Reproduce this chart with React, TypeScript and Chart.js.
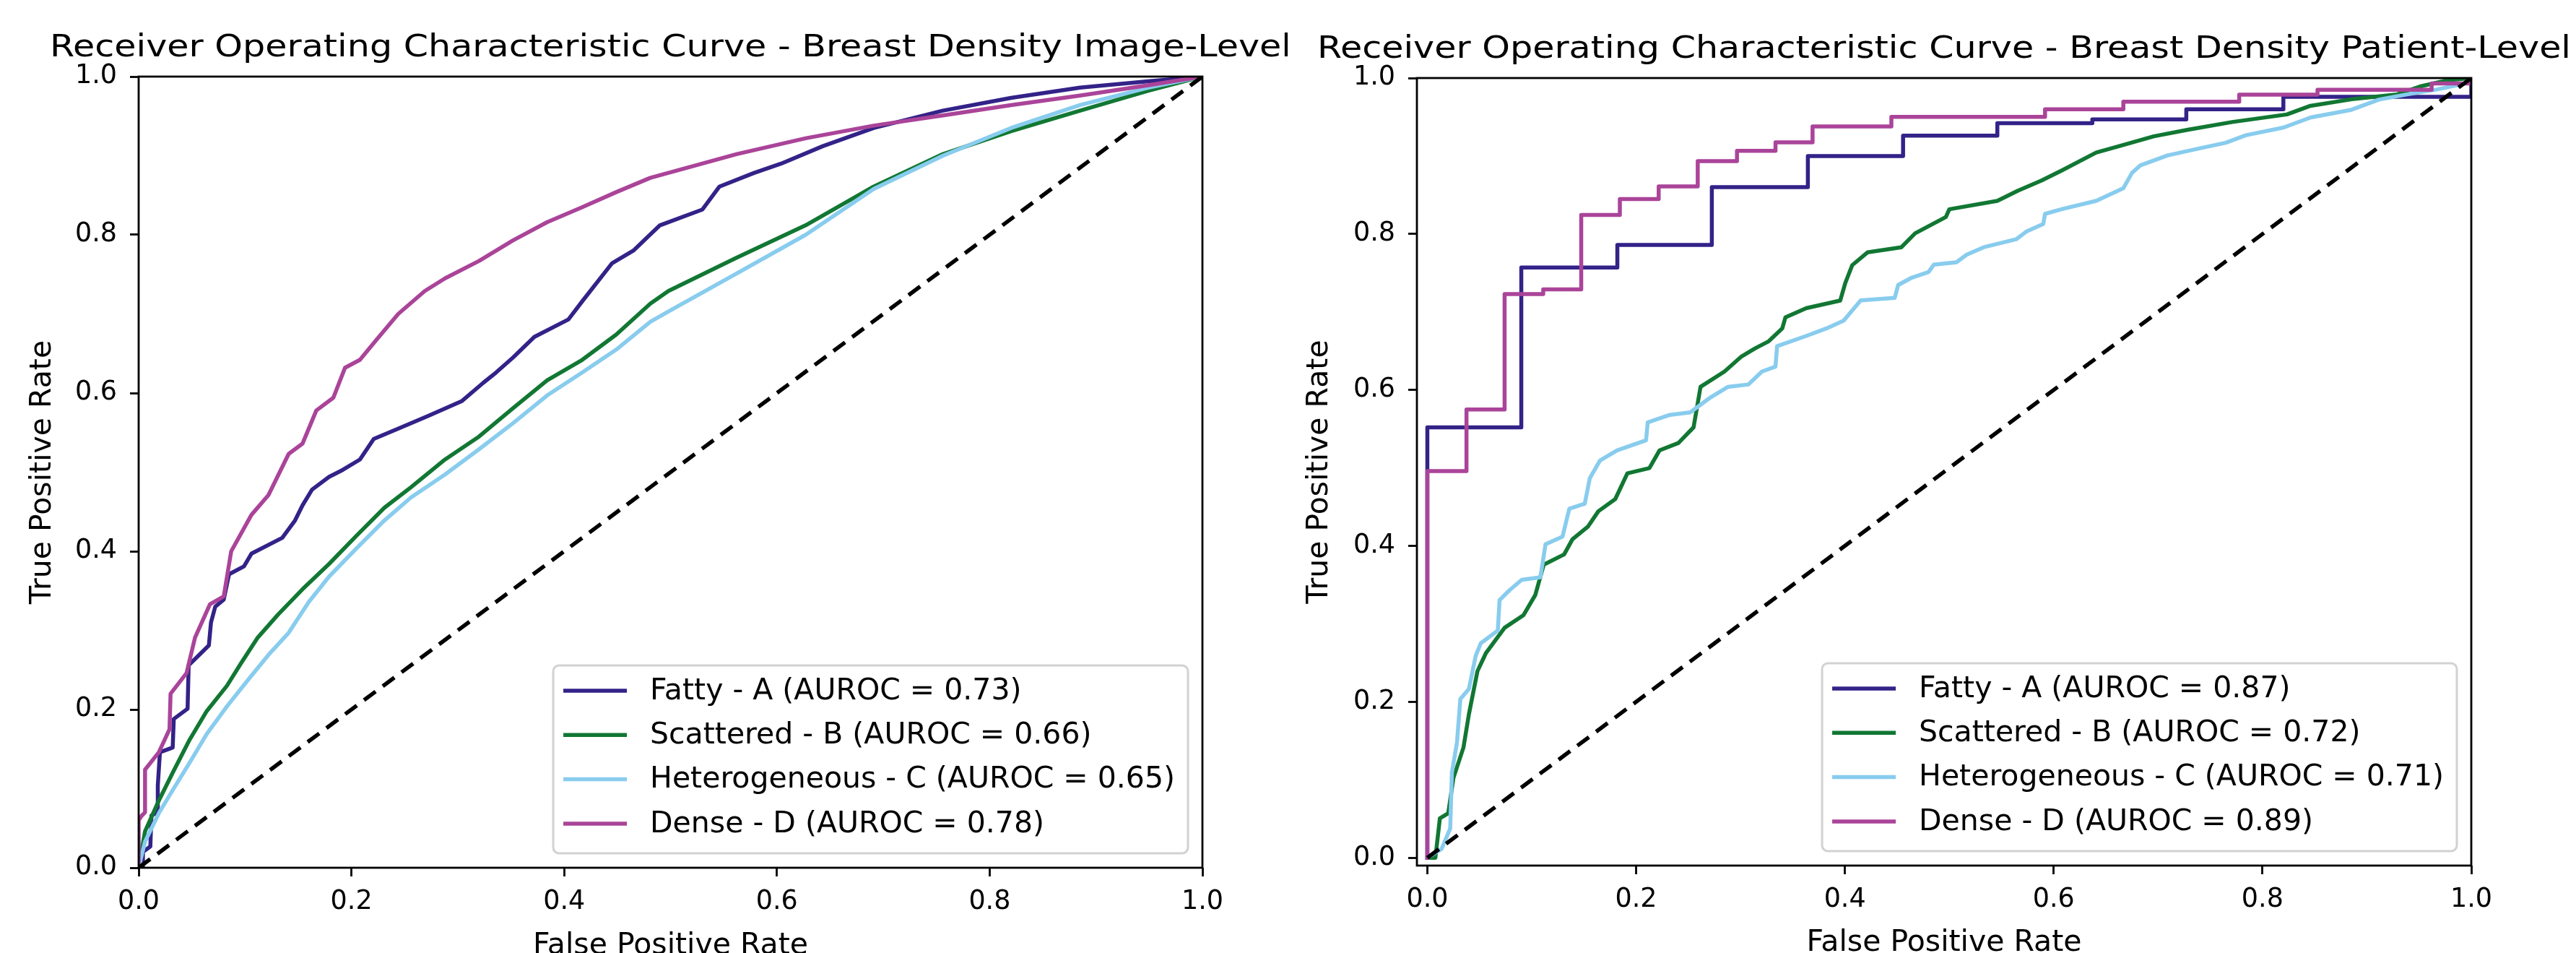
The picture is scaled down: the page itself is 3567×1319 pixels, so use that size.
import React, { useEffect, useRef } from "react";
import { Chart, registerables } from "chart.js";

Chart.register(...registerables);

// ---------------- data ----------------
const SERIES_LABELS = ["Fatty - A", "Scattered - B", "Heterogeneous - C", "Dense - D"];
const SERIES_COLORS = ["#332288", "#117733", "#88CCEE", "#AA4499"];
const IMAGE_AUROC = [0.73, 0.66, 0.65, 0.78];
const PATIENT_AUROC = [0.87, 0.72, 0.71, 0.89];
const TICK_VALUES = [0, 0.2, 0.4, 0.6, 0.8, 1.0];
const CHANCE_FPR = [0, 1];
const CHANCE_TPR = [0, 1];

// Image-level curves
const imgFattyFpr = [0, 0.004, 0.004, 0.011, 0.012, 0.018, 0.018, 0.02, 0.032, 0.033, 0.046, 0.047, 0.066, 0.068, 0.072, 0.08, 0.085, 0.099, 0.106, 0.135, 0.147, 0.154, 0.163, 0.179, 0.192, 0.208, 0.221, 0.244, 0.272, 0.304, 0.324, 0.336, 0.352, 0.372, 0.404, 0.417, 0.445, 0.465, 0.49, 0.53, 0.546, 0.578, 0.604, 0.643, 0.691, 0.756, 0.82, 0.885, 0.949, 1.0];
const imgFattyTpr = [0, 0, 0.02, 0.027, 0.066, 0.07, 0.104, 0.146, 0.152, 0.188, 0.201, 0.256, 0.281, 0.31, 0.33, 0.339, 0.371, 0.381, 0.397, 0.417, 0.439, 0.458, 0.478, 0.494, 0.503, 0.516, 0.542, 0.555, 0.571, 0.59, 0.613, 0.626, 0.645, 0.671, 0.693, 0.716, 0.764, 0.78, 0.812, 0.832, 0.861, 0.878, 0.89, 0.912, 0.935, 0.957, 0.973, 0.986, 0.994, 1.0];

const imgScatteredFpr = [0, 0.006, 0.019, 0.032, 0.048, 0.064, 0.083, 0.096, 0.112, 0.131, 0.154, 0.179, 0.205, 0.231, 0.256, 0.288, 0.32, 0.352, 0.384, 0.417, 0.449, 0.481, 0.498, 0.562, 0.627, 0.691, 0.756, 0.82, 0.885, 0.949, 1.0];
const imgScatteredTpr = [0, 0.046, 0.085, 0.12, 0.162, 0.198, 0.23, 0.258, 0.291, 0.32, 0.352, 0.384, 0.42, 0.455, 0.481, 0.516, 0.545, 0.581, 0.616, 0.642, 0.674, 0.713, 0.729, 0.771, 0.812, 0.861, 0.902, 0.931, 0.957, 0.982, 1.0];

const imgHeteroFpr = [0, 0.006, 0.019, 0.032, 0.048, 0.064, 0.083, 0.102, 0.122, 0.141, 0.16, 0.179, 0.205, 0.231, 0.256, 0.288, 0.32, 0.352, 0.384, 0.417, 0.449, 0.481, 0.498, 0.562, 0.627, 0.691, 0.756, 0.82, 0.885, 0.949, 1.0];
const imgHeteroTpr = [0, 0.033, 0.069, 0.098, 0.133, 0.169, 0.204, 0.236, 0.269, 0.297, 0.336, 0.368, 0.404, 0.439, 0.468, 0.497, 0.529, 0.562, 0.597, 0.626, 0.655, 0.69, 0.703, 0.751, 0.8, 0.858, 0.9, 0.935, 0.964, 0.986, 1.0];

const imgDenseFpr = [0, 0, 0.003, 0.006, 0.006, 0.019, 0.029, 0.03, 0.045, 0.053, 0.067, 0.08, 0.087, 0.106, 0.122, 0.141, 0.154, 0.167, 0.183, 0.194, 0.208, 0.224, 0.244, 0.269, 0.288, 0.32, 0.352, 0.384, 0.417, 0.449, 0.481, 0.562, 0.627, 0.691, 0.756, 0.82, 0.885, 0.949, 1.0];
const imgDenseTpr = [0, 0.06, 0.066, 0.07, 0.124, 0.146, 0.175, 0.22, 0.246, 0.291, 0.333, 0.343, 0.4, 0.446, 0.471, 0.523, 0.536, 0.578, 0.594, 0.632, 0.642, 0.668, 0.7, 0.729, 0.745, 0.767, 0.793, 0.816, 0.835, 0.854, 0.872, 0.902, 0.922, 0.938, 0.951, 0.964, 0.976, 0.989, 1.0];

// Patient-level curves
const patFattyFpr = [0, 0, 0.09, 0.09, 0.182, 0.182, 0.2725, 0.2725, 0.3645, 0.3645, 0.4557, 0.4557, 0.546, 0.546, 0.637, 0.637, 0.727, 0.727, 0.82, 0.82, 1.0, 1.0];
const patFattyTpr = [0, 0.552, 0.552, 0.757, 0.757, 0.786, 0.786, 0.86, 0.86, 0.9, 0.9, 0.926, 0.926, 0.942, 0.942, 0.947, 0.947, 0.96, 0.96, 0.976, 0.976, 1.0];

const patScatteredFpr = [0, 0.0077, 0.012, 0.02, 0.025, 0.0346, 0.0398, 0.048, 0.056, 0.074, 0.092, 0.1034, 0.1115, 0.131, 0.139, 0.154, 0.1638, 0.18, 0.1916, 0.2127, 0.2225, 0.2405, 0.255, 0.2617, 0.2846, 0.301, 0.314, 0.327, 0.34, 0.343, 0.363, 0.3955, 0.4004, 0.407, 0.4216, 0.454, 0.4673, 0.4967, 0.5, 0.546, 0.5656, 0.5885, 0.608, 0.6407, 0.6667, 0.696, 0.7288, 0.771, 0.8234, 0.846, 0.8854, 0.929, 0.9507, 0.9766, 1.0];
const patScatteredTpr = [0, 0, 0.0506, 0.057, 0.1025, 0.1415, 0.184, 0.2394, 0.2622, 0.295, 0.311, 0.337, 0.376, 0.389, 0.4085, 0.425, 0.4444, 0.46, 0.493, 0.4998, 0.5226, 0.532, 0.552, 0.604, 0.6236, 0.643, 0.6533, 0.6624, 0.679, 0.693, 0.7049, 0.7146, 0.7373, 0.76, 0.7764, 0.783, 0.8009, 0.8218, 0.8317, 0.8425, 0.8555, 0.8686, 0.8816, 0.9044, 0.9142, 0.9253, 0.9337, 0.9436, 0.9533, 0.9644, 0.9728, 0.979, 0.9891, 0.997, 1.0];

const patHeteroFpr = [0, 0.0137, 0.0219, 0.0235, 0.0284, 0.0316, 0.0398, 0.0463, 0.0512, 0.0675, 0.0692, 0.079, 0.0904, 0.1083, 0.1132, 0.1295, 0.136, 0.1508, 0.1556, 0.1654, 0.1817, 0.2095, 0.2111, 0.2324, 0.2518, 0.2715, 0.2877, 0.3074, 0.3205, 0.3335, 0.335, 0.3629, 0.3825, 0.3988, 0.4151, 0.4477, 0.451, 0.464, 0.48, 0.4853, 0.5068, 0.5166, 0.533, 0.564, 0.5737, 0.59, 0.5917, 0.608, 0.6407, 0.6667, 0.675, 0.683, 0.709, 0.742, 0.7647, 0.7842, 0.8202, 0.8463, 0.8852, 0.9115, 0.9376, 0.967, 0.9965, 1.0];
const patHeteroTpr = [0, 0.0115, 0.0376, 0.109, 0.148, 0.2036, 0.2166, 0.259, 0.2752, 0.2915, 0.3305, 0.3435, 0.3565, 0.3598, 0.402, 0.4119, 0.4477, 0.4541, 0.4867, 0.5095, 0.5225, 0.5355, 0.5583, 0.568, 0.5713, 0.5906, 0.6038, 0.607, 0.6236, 0.63, 0.6562, 0.6692, 0.679, 0.6888, 0.7148, 0.7181, 0.7345, 0.744, 0.751, 0.7608, 0.7637, 0.7735, 0.783, 0.7932, 0.803, 0.8128, 0.8258, 0.832, 0.8425, 0.8587, 0.8784, 0.888, 0.9007, 0.9105, 0.917, 0.9267, 0.9365, 0.9495, 0.9593, 0.9723, 0.9788, 0.9853, 0.9938, 1.0];

const patDenseFpr = [0, 0, 0.0375, 0.0375, 0.074, 0.074, 0.111, 0.111, 0.1474, 0.1474, 0.1844, 0.1844, 0.2216, 0.2216, 0.259, 0.259, 0.2966, 0.2966, 0.3335, 0.3335, 0.369, 0.369, 0.4445, 0.4445, 0.5917, 0.5917, 0.6667, 0.6667, 0.7777, 0.7777, 0.8527, 0.8527, 0.962, 0.962, 1.0, 1.0];
const patDenseTpr = [0, 0.496, 0.496, 0.575, 0.575, 0.723, 0.723, 0.729, 0.729, 0.8245, 0.8245, 0.8447, 0.8447, 0.861, 0.861, 0.8935, 0.8935, 0.9066, 0.9066, 0.9176, 0.9176, 0.938, 0.938, 0.9502, 0.9502, 0.96, 0.96, 0.9697, 0.9697, 0.9788, 0.9788, 0.985, 0.985, 0.993, 0.993, 1.0];

// ---------------- styling / layout ----------------
const FONT = '"DejaVu Sans", "Liberation Sans", sans-serif';
const TITLE_SIZE = 43.5;
const TITLE_STRETCH = 1.13;
const LABEL_SIZE = 41;
const TICK_SIZE = 36.5;
const LEGEND_SIZE = 41;
const PAGE_W = 3567;
const PAGE_H = 1319;

type Panel = {
  title: string;
  left: number;
  width: number;
  area: { left: number; top: number; right: number; bottom: number };
  min: number;
  titleBaseline: number;
  xLabelBaseline: number;
  yLabelBaseline: number;
  auroc: number[];
  fpr: number[][];
  tpr: number[][];
};

const PANELS: Panel[] = [
  {
    title: "Receiver Operating Characteristic Curve - Breast Density Image-Level",
    left: 0,
    width: 1783,
    area: { left: 192, top: 106, right: 1665, bottom: 1201 },
    min: 0,
    titleBaseline: 78,
    xLabelBaseline: 1320,
    yLabelBaseline: 70,
    auroc: IMAGE_AUROC,
    fpr: [imgFattyFpr, imgScatteredFpr, imgHeteroFpr, imgDenseFpr],
    tpr: [imgFattyTpr, imgScatteredTpr, imgHeteroTpr, imgDenseTpr],
  },
  {
    title: "Receiver Operating Characteristic Curve - Breast Density Patient-Level",
    left: 1783,
    width: 1784,
    area: { left: 179, top: 108, right: 1639, bottom: 1198 },
    min: -0.01,
    titleBaseline: 80,
    xLabelBaseline: 1316,
    yLabelBaseline: 55,
    auroc: PATIENT_AUROC,
    fpr: [patFattyFpr, patScatteredFpr, patHeteroFpr, patDenseFpr],
    tpr: [patFattyTpr, patScatteredTpr, patHeteroTpr, patDenseTpr],
  },
];

const toPoints = (xs: number[], ys: number[]) => xs.map((x, i) => ({ x, y: ys[i] }));

const decorPlugin = {
  id: "decor",
  afterDraw(chart: any, _args: any, opts: any) {
    const { ctx, chartArea: a } = chart;
    const cx = (a.left + a.right) / 2;
    ctx.save();
    // spines
    ctx.strokeStyle = "#000";
    ctx.lineWidth = 2.8;
    ctx.strokeRect(a.left, a.top, a.right - a.left, a.bottom - a.top);
    // title
    ctx.fillStyle = "#000";
    ctx.textAlign = "center";
    ctx.textBaseline = "alphabetic";
    ctx.font = `${TITLE_SIZE}px ${FONT}`;
    ctx.save();
    ctx.translate(cx, opts.titleBaseline);
    ctx.scale(TITLE_STRETCH, 1);
    ctx.fillText(opts.title, 0, 0);
    ctx.restore();
    // axis labels
    ctx.font = `${LABEL_SIZE}px ${FONT}`;
    ctx.fillText("False Positive Rate", cx, opts.xLabelBaseline);
    ctx.save();
    ctx.translate(opts.yLabelBaseline, (a.top + a.bottom) / 2);
    ctx.rotate(-Math.PI / 2);
    ctx.fillText("True Positive Rate", 0, 0);
    ctx.restore();
    // legend
    const labels: string[] = opts.labels;
    ctx.font = `${LEGEND_SIZE}px ${FONT}`;
    let maxW = 0;
    labels.forEach((t) => (maxW = Math.max(maxW, ctx.measureText(t).width)));
    const padL = 14, handle = 88, gap = 32, padR = 18;
    const boxW = padL + handle + gap + maxW + padR;
    const boxH = 260;
    const bx = a.right - 20 - boxW;
    const by = a.bottom - 20 - boxH;
    const r = 8;
    ctx.beginPath();
    ctx.moveTo(bx + r, by);
    ctx.arcTo(bx + boxW, by, bx + boxW, by + boxH, r);
    ctx.arcTo(bx + boxW, by + boxH, bx, by + boxH, r);
    ctx.arcTo(bx, by + boxH, bx, by, r);
    ctx.arcTo(bx, by, bx + boxW, by, r);
    ctx.closePath();
    ctx.fillStyle = "rgba(255,255,255,0.8)";
    ctx.fill();
    ctx.strokeStyle = "#d2d2d2";
    ctx.lineWidth = 3;
    ctx.stroke();
    labels.forEach((t, i) => {
      const y = by + 35 + i * 61.3;
      ctx.strokeStyle = opts.colors[i];
      ctx.lineWidth = 5.5;
      ctx.lineCap = "butt";
      ctx.beginPath();
      ctx.moveTo(bx + padL, y);
      ctx.lineTo(bx + padL + handle, y);
      ctx.stroke();
      ctx.fillStyle = "#000";
      ctx.textAlign = "left";
      ctx.textBaseline = "middle";
      ctx.fillText(t, bx + padL + handle + gap, y + 1);
    });
    ctx.restore();
  },
};

function makeConfig(p: Panel): any {
  const H = PAGE_H;
  const W = p.width;
  const seriesOrder = [4, 3, 2, 1];
  const datasets: any[] = SERIES_LABELS.map((lab, i) => ({
    label: `${lab} (AUROC = ${p.auroc[i].toFixed(2)})`,
    data: toPoints(p.fpr[i], p.tpr[i]),
    showLine: true,
    borderColor: SERIES_COLORS[i],
    backgroundColor: SERIES_COLORS[i],
    borderWidth: 5.5,
    pointRadius: 0,
    pointHoverRadius: 0,
    tension: 0,
    borderJoinStyle: "round",
    borderCapStyle: "square",
    fill: false,
    order: seriesOrder[i],
  }));
  datasets.push({
    label: "chance",
    data: toPoints(CHANCE_FPR, CHANCE_TPR),
    showLine: true,
    borderColor: "#000",
    borderWidth: 5.5,
    borderDash: [20, 12.4],
    borderCapStyle: "butt",
    pointRadius: 0,
    pointHoverRadius: 0,
    fill: false,
    order: 0,
  });
  const tickFont = { family: FONT, size: TICK_SIZE };
  const grid = {
    display: true,
    drawOnChartArea: false,
    drawTicks: true,
    tickLength: 12,
    tickWidth: 2.8,
    tickColor: "#000",
  };
  return {
    type: "scatter",
    data: { datasets },
    options: {
      responsive: false,
      animation: false,
      devicePixelRatio: 1,
      events: [],
      layout: { padding: { left: 0, top: p.area.top, right: W - p.area.right, bottom: 0 } },
      plugins: {
        legend: { display: false },
        tooltip: { enabled: false },
        title: { display: false },
        decor: {
          title: p.title,
          titleBaseline: p.titleBaseline,
          xLabelBaseline: p.xLabelBaseline,
          yLabelBaseline: p.yLabelBaseline,
          labels: datasets.slice(0, 4).map((d) => d.label),
          colors: SERIES_COLORS,
        },
      },
      scales: {
        x: {
          type: "linear",
          min: p.min,
          max: 1,
          grid,
          border: { display: false },
          ticks: {
            font: tickFont,
            color: "#000",
            padding: 14,
            maxRotation: 0,
            autoSkip: false,
            callback: (v: any) => Number(v).toFixed(1),
          },
          afterBuildTicks: (s: any) => {
            s.ticks = TICK_VALUES.map((v) => ({ value: v }));
          },
          afterFit: (s: any) => {
            s.height = H - p.area.bottom;
          },
        },
        y: {
          type: "linear",
          min: p.min,
          max: 1,
          grid,
          border: { display: false },
          ticks: {
            font: tickFont,
            color: "#000",
            padding: 18,
            autoSkip: false,
            callback: (v: any) => Number(v).toFixed(1),
          },
          afterBuildTicks: (s: any) => {
            s.ticks = TICK_VALUES.map((v) => ({ value: v }));
          },
          afterFit: (s: any) => {
            s.width = p.area.left;
          },
        },
      },
    },
    plugins: [decorPlugin],
  };
}

function RocPanel({ panel }: { panel: Panel }) {
  const ref = useRef<HTMLCanvasElement>(null);
  useEffect(() => {
    if (!ref.current) return;
    const chart = new Chart(ref.current, makeConfig(panel));
    return () => chart.destroy();
  }, [panel]);
  return (
    <canvas
      ref={ref}
      width={panel.width}
      height={PAGE_H}
      style={{ position: "absolute", left: panel.left, top: 0, width: panel.width, height: PAGE_H }}
    />
  );
}

export default function App() {
  return (
    <div
      style={{
        position: "absolute",
        left: 0,
        top: 0,
        width: PAGE_W,
        height: PAGE_H,
        background: "#fff",
        overflow: "hidden",
      }}
    >
      {PANELS.map((p, i) => (
        <RocPanel key={i} panel={p} />
      ))}
    </div>
  );
}
